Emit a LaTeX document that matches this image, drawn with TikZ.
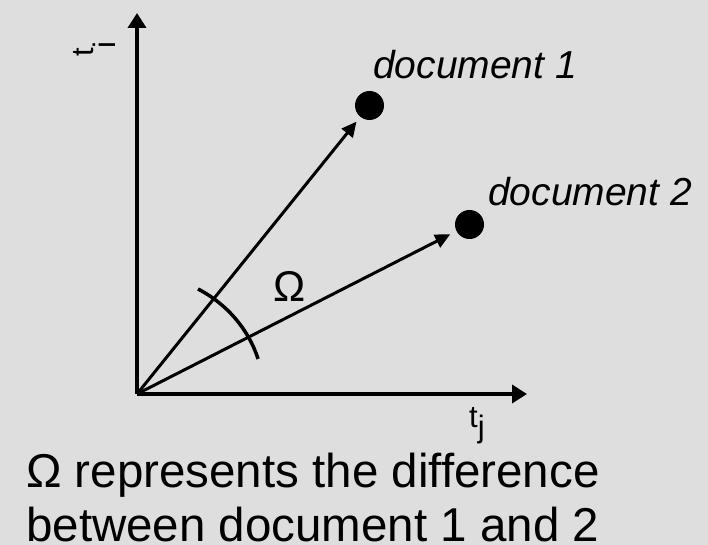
\documentclass[tikz,border=0pt]{standalone}
\usepackage{fontspec}
\setmainfont[Ligatures={NoCommon}]{Liberation Sans}
\usetikzlibrary{arrows.meta}
\definecolor{bg}{RGB}{222,222,222}
\begin{document}
\begin{tikzpicture}[x=1pt,y=1pt,
  axis/.style={line width=4pt,-{Triangle[length=15pt,width=18pt]}},
  vec/.style={line width=3pt,-{Triangle[length=15pt,width=14pt]}},
  dot/.style={circle,fill=black,inner sep=0pt,minimum size=29pt},
  lbl/.style={inner sep=0pt,anchor=base west}]
\fill[bg] (0,0) rectangle (708,545);
\useasboundingbox (0,0) rectangle (708,545);
\coordinate (O) at (137,151);
\coordinate (ytip) at (137,532);
\coordinate (xtip) at (527,151);
\draw[axis] (O) -- (ytip);
\draw[axis] (O) -- (xtip);
\node[dot] (d1) at (369.5,439.5) {};
\node[dot] (d2) at (469.5,320.5) {};
\draw[vec,shorten >=6pt] (O) -- (d1);
\draw[vec,shorten >=7pt] (O) -- (d2);
\draw[line width=3.5pt] (198,256) arc[start angle=61.2,end angle=17,x radius=126.6,y radius=119.8];
\node[lbl,rotate=90] (ti) at (93,488) {\fontsize{31}{36}\selectfont t\raisebox{-22pt}{i}};
\node[lbl] (tj) at (469,117) {\fontsize{31}{36}\selectfont t\raisebox{-10pt}{j}};
\node[lbl] (om) at (273,243) {\fontsize{43}{50}\selectfont Ω};
\node[lbl] (l1) at (373,466) {\fontsize{39}{46}\selectfont\itshape document 1};
\node[lbl] (l2) at (488,339) {\fontsize{39}{46}\selectfont\itshape document 2};
\node[lbl] (c1) at (26,57) {\fontsize{47.5}{56}\selectfont Ω represents the difference};
\node[lbl] (c2) at (26,3) {\fontsize{47.5}{56}\selectfont between document 1 and 2};
\end{tikzpicture}
\end{document}
